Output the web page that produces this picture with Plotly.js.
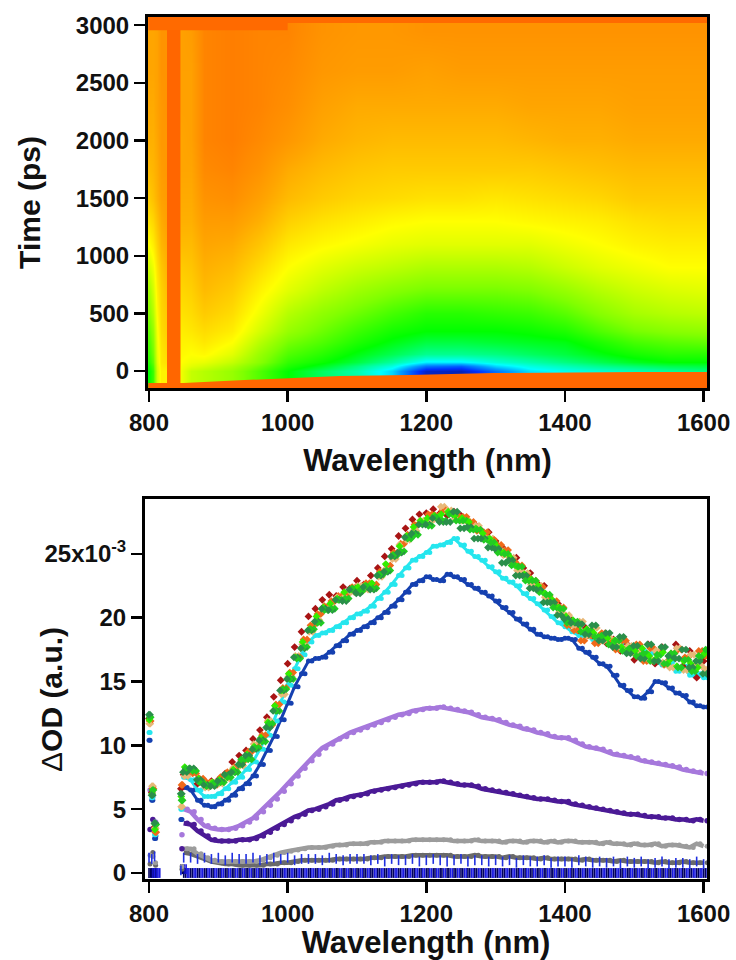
<!DOCTYPE html>
<html><head><meta charset="utf-8">
<script src="https://cdn.plot.ly/plotly-3.0.1.min.js"></script>
<style>html,body{margin:0;padding:0;background:#fff}#c{width:736px;height:960px}</style></head>
<body><div id="c"></div>
<script>
// ---------- top map ----------
const mapWave=[800,806,812,818,824,826,844,846,860,880,920,960,1000,1050,1100,1150,1200,1250,1300,1350,1400,1450,1500,1550,1604];
const mapTime=[-150,0,40,80,150,250,350,500,700,900,1100,1300,1500,1750,2000,2300,2600,2950];
const mapZ=[
[42,48,66,74,74,100,100,70,64,62,58,50,42,36,31,22,4,3,14,23,26,28,30,32,34],
[42,48,66,74,74,100,100,70,64,62,58,50,42,36,31,22,4,3,14,23,26,28,30,32,34],
[44,50,67,75,76,100,100,71,68,66,61,53,45,40,34,27,14,12,22,27,30,33,35,37,38],
[46,52,68,76,77,100,100,72,70,69,64,56,47,43,38,32,24,24,28,31,34,37,40,42,42],
[48,54,69,76,78,100,100,73,72,73,68,58,50,46,41,37,33,33,34,36,38,41,44,46,46],
[50,56,70,77,79,100,100,74,74,76,72,62,54,50,45,41,38,38,39,40,41,45,49,51,52],
[52,58,71,78,80,100,100,75,76,78,75,66,58,53,48,44,42,42,42,43,45,50,54,56,57],
[56,62,73,79,81,100,100,77,78,81,78,70,62,57,53,49,46,46,47,48,51,56,60,62,63],
[60,66,75,80,83,100,100,79,80,84,81,74,68,63,59,56,54,54,54,55,58,62,65,67,68],
[66,70,77,82,85,100,100,81,82,86,84,78,72,68,65,63,61,61,61,62,65,68,70,72,72],
[72,75,80,85,87,100,100,84,84,88,87,82,76,73,71,69,68,68,68,68,70,72,74,75,75],
[77,79,83,87,89,100,100,86,86,90,90,86,80,77,75,73,72,72,72,73,74,75,77,78,78],
[81,83,86,89,90,100,100,87,87,92,93,89,84,81,79,78,77,77,76,77,78,79,81,81,81],
[84,85,87,90,91,100,100,88,88,94,95,92,87,84,82,81,81,81,81,81,82,83,84,84,84],
[86,86,88,91,91,100,100,88,89,95,96,94,91,87,85,84,84,84,84,85,86,86,87,87,87],
[87,87,89,91,92,100,100,89,89,95,96,95,93,89,87,87,87,87,87,88,88,88,89,89,89],
[88,88,89,92,92,100,100,89,89,95,96,95,94,91,90,90,89,90,90,90,90,90,90,90,90],
[88,88,89,92,92,100,100,89,90,95,96,95,95,92,91,91,92,92,92,92,92,92,92,92,92]];
const mapStops=[0,8,18,25,33,42,55,65,72,80,88,94,100];
const mapColors=['#0a1a8c','#0030ff','#00a0ff','#00ffff','#00ff90','#00ff00','#80ff00','#ccff00','#ffff00','#ffd000','#ffa500','#ff8a00','#ff6600'];
const edgeX=[799,850,938,1000,1075,1175,1297,1505,1605,1605,799];
const edgeY=[-104,-104,-78,-60,-43,-35,-17,-9,-9,-160,-160];
const capX=[799,799,1000,1000,1605,1605];
const capY=[3080,2955,2955,3020,3020,3080];

// ---------- bottom spectra ----------
const waves=[800,804,808,846,850,860,870,880,890,900,910,920,930,940,950,960,970,980,990,1000,1010,1020,1030,1040,1050,1060,1070,1080,1090,1100,1110,1120,1130,1140,1150,1160,1170,1180,1190,1200,1210,1220,1230,1240,1250,1260,1270,1280,1290,1300,1310,1320,1330,1340,1350,1360,1370,1380,1390,1400,1410,1420,1430,1440,1450,1460,1470,1480,1490,1500,1510,1520,1530,1540,1550,1560,1570,1580,1590,1600];
const darkRed=[12.1,6.3,3.6,6.6,7.7,7.9,7.0,6.9,7.2,7.3,7.8,8.7,9.2,9.6,10.5,11.2,12.2,13.8,15.1,16.4,17.7,18.9,20.1,20.7,21.4,21.8,21.7,22.4,22.3,22.9,22.6,23.3,23.9,24.8,25.4,26.4,27.0,27.7,28.1,28.2,28.5,28.2,28.0,28.3,28.0,27.5,27.3,26.8,26.7,26.0,25.5,24.8,24.7,23.9,23.5,22.7,22.5,21.4,21.1,19.9,19.8,19.0,19.2,18.6,18.6,18.0,18.3,17.4,17.9,16.7,17.6,17.9,16.4,17.7,16.7,17.9,16.2,17.4,15.3,16.6];
const orange=[11.9,6.6,3.2,6.9,8.0,7.8,7.4,7.1,6.9,7.5,7.9,8.3,8.8,9.5,9.9,10.8,11.6,13.2,14.5,15.7,16.9,18.3,19.4,20.3,20.9,21.3,21.7,21.9,22.4,22.2,22.7,22.6,23.6,24.1,25.1,25.8,26.5,27.3,27.4,28.1,28.0,28.4,28.2,27.9,27.9,27.5,26.8,26.7,26.1,25.7,25.3,24.4,24.1,23.2,22.9,22.4,21.7,21.3,20.8,19.4,19.0,18.2,18.6,18.0,18.8,18.1,17.5,18.2,17.3,17.9,16.6,17.6,17.2,16.3,17.2,17.5,16.9,16.2,17.4,17.0];
const tan=[11.7,6.8,3.5,5.2,7.6,8.1,7.2,6.7,7.1,7.0,7.4,8.2,8.4,9.0,10.1,10.4,11.9,12.8,14.0,15.4,17.0,17.9,18.9,19.8,20.7,20.8,21.6,21.6,22.0,22.5,22.2,22.4,23.2,23.8,24.6,25.7,26.1,26.8,27.6,27.5,27.7,28.7,28.4,27.8,27.6,27.1,27.2,26.3,26.2,25.4,24.9,24.7,23.7,23.5,22.6,22.5,21.6,21.1,20.4,20.2,19.4,19.7,18.6,19.2,18.2,18.4,18.0,17.6,17.8,17.3,17.0,16.7,17.4,16.5,16.1,17.6,15.9,17.1,16.3,16.0];
const darkGreen=[12.4,6.1,3.9,6.2,7.9,8.2,7.3,6.9,6.8,7.2,7.7,7.9,8.5,9.2,9.7,10.4,11.4,12.7,14.3,15.2,16.9,17.6,19.0,19.7,20.7,20.6,21.4,21.3,22.2,21.9,22.4,22.2,23.3,23.6,24.8,25.1,26.3,26.6,27.3,27.3,27.8,27.5,27.5,28.3,27.0,27.1,26.2,26.2,25.5,25.4,24.3,24.5,23.3,23.3,22.3,22.2,21.2,21.2,20.2,19.9,19.6,19.5,18.7,19.4,18.2,18.8,17.7,18.5,17.2,17.8,16.8,17.9,16.6,17.7,17.0,16.8,17.5,16.1,16.6,15.6];
const midGreen=[12.2,6.5,3.8,5.7,8.2,8.0,7.1,6.8,7.0,7.1,7.5,7.9,8.9,8.9,9.8,10.3,11.7,12.7,14.4,15.2,16.8,17.7,19.1,19.6,20.6,20.7,21.4,21.5,22.3,22.1,22.5,22.3,23.4,23.7,24.9,25.2,26.2,26.5,27.4,27.2,27.9,27.6,28.1,27.6,27.6,26.9,26.9,26.1,25.9,25.1,25.0,24.1,24.0,22.9,22.9,22.0,21.8,20.8,20.7,19.6,19.7,18.9,19.0,18.5,18.6,17.9,18.2,17.4,17.6,17.0,17.2,16.6,17.1,16.4,17.2,16.1,16.7,15.8,17.0,17.5];
const brightGreen=[12.0,6.2,3.4,6.0,8.3,8.1,7.4,6.9,7.1,7.3,7.6,8.1,8.5,9.3,9.9,10.6,11.8,13.1,14.3,15.6,16.9,18.1,19.1,20.1,20.8,21.1,21.5,22.0,22.2,22.4,22.5,22.7,23.4,24.2,24.9,25.6,26.4,27.1,27.6,27.8,28.0,28.1,28.3,28.0,27.8,27.5,27.0,26.6,26.2,25.6,25.1,24.7,24.0,23.4,23.0,22.5,21.9,21.4,20.8,20.1,19.8,19.4,19.1,18.8,18.5,18.4,18.2,17.7,17.5,17.4,17.6,17.0,16.8,17.3,16.7,16.2,16.6,16.4,16.1,17.2];
const cyan=[11.0,5.9,3.0,5.0,7.5,7.3,6.5,6.0,6.0,6.2,6.6,7.1,7.5,8.1,8.7,9.7,10.8,11.9,13.4,14.7,16.0,17.1,18.1,18.6,18.8,19.0,19.3,19.6,20.0,20.3,20.5,20.9,21.5,22.0,22.6,23.3,23.9,24.5,24.8,25.1,25.6,25.7,25.9,26.2,25.7,25.2,24.8,24.5,24.0,23.6,23.1,22.8,22.5,21.9,21.5,21.1,20.6,20.1,19.6,19.3,18.9,18.6,18.6,18.3,18.3,18.1,17.9,18.0,17.6,17.7,17.4,17.2,16.6,16.3,16.5,15.8,16.2,15.5,15.6,15.3];
const blue=[10.4,5.7,2.7,4.2,6.7,6.5,5.7,5.3,5.2,5.4,5.7,6.1,6.6,7.0,7.6,8.5,9.6,10.7,12.0,13.3,14.6,15.6,16.6,16.8,16.9,17.3,17.8,18.2,18.7,19.0,19.3,19.6,20.0,20.4,20.9,21.4,22.0,22.6,22.9,23.2,23.0,22.9,23.4,23.2,23.0,22.6,22.3,22.0,21.7,21.3,20.8,20.4,19.9,19.5,19.1,18.7,18.5,18.4,18.3,18.4,18.3,17.6,17.3,16.9,16.4,16.2,15.5,14.7,14.3,13.8,13.7,14.2,15.0,14.9,14.5,14.1,13.9,13.4,13.1,13.0];
const lilac=[6.5,6.0,4.0,3.0,5.0,4.8,4.2,3.7,3.5,3.4,3.4,3.5,3.7,4.0,4.3,4.8,5.3,5.8,6.4,7.0,7.6,8.2,8.8,9.3,9.8,10.1,10.5,10.7,11.0,11.2,11.4,11.6,11.8,12.0,12.2,12.4,12.5,12.7,12.8,12.9,12.9,13.0,12.9,12.8,12.7,12.6,12.4,12.2,12.1,12.0,11.8,11.6,11.5,11.3,11.2,11.0,10.9,10.7,10.6,10.6,10.4,10.1,9.9,9.8,9.7,9.5,9.3,9.2,9.1,9.0,8.8,8.7,8.6,8.5,8.4,8.3,8.1,8.0,7.9,7.8];
const violet=[3.4,4.2,2.9,1.9,3.9,3.8,3.3,2.9,2.6,2.5,2.5,2.5,2.6,2.6,2.7,2.9,3.2,3.5,3.8,4.1,4.4,4.6,4.9,5.0,5.2,5.4,5.7,5.8,6.0,6.1,6.2,6.4,6.5,6.6,6.7,6.8,6.9,7.0,7.1,7.1,7.1,7.2,7.1,7.0,6.9,6.9,6.8,6.6,6.5,6.4,6.3,6.2,6.1,6.0,5.9,5.8,5.8,5.7,5.6,5.6,5.4,5.3,5.2,5.1,5.0,4.9,4.8,4.7,4.6,4.6,4.5,4.4,4.4,4.3,4.3,4.2,4.2,4.1,4.2,4.1];
const grey=[1.4,1.3,0.8,0.5,1.9,1.9,1.5,1.2,1.0,0.9,0.9,0.9,0.9,0.9,0.9,1.0,1.2,1.4,1.6,1.7,1.8,1.9,2.0,2.0,2.0,2.1,2.2,2.2,2.3,2.3,2.3,2.4,2.4,2.5,2.5,2.5,2.5,2.6,2.6,2.6,2.6,2.6,2.6,2.5,2.5,2.5,2.6,2.5,2.5,2.5,2.4,2.5,2.5,2.4,2.5,2.5,2.4,2.5,2.4,2.5,2.5,2.4,2.4,2.4,2.3,2.4,2.3,2.3,2.2,2.3,2.2,2.2,2.3,2.1,2.2,2.2,2.1,2.0,2.3,2.1];
const darkGrey=[0.7,1.6,0.6,0.3,1.6,1.5,1.3,1.1,0.9,0.8,0.7,0.7,0.6,0.6,0.6,0.6,0.7,0.7,0.8,0.8,0.9,1.0,1.0,1.0,1.0,1.0,1.1,1.1,1.1,1.1,1.1,1.2,1.2,1.3,1.3,1.3,1.3,1.4,1.4,1.4,1.4,1.4,1.4,1.3,1.3,1.3,1.4,1.3,1.3,1.3,1.2,1.3,1.2,1.2,1.2,1.1,1.2,1.1,1.1,1.1,1.1,1.0,1.1,1.0,1.0,1.0,0.9,1.0,0.9,0.9,0.9,0.9,0.8,0.9,0.8,0.8,0.9,0.8,0.8,0.8];
const royal=[1.2,1.1,1.3,0.2,1.2,1.2,1.1,1.2,1.1,1.2,1.0,1.2,1.1,1.1,1.2,1.0,1.1,1.2,1.1,1.2,1.0,1.1,1.1,1.1,1.0,1.2,1.1,1.0,1.1,1.1,1.1,1.0,1.1,0.9,1.1,1.0,1.0,1.1,0.9,1.0,1.1,1.0,0.9,1.0,1.1,0.9,1.0,1.0,0.9,1.0,0.9,1.0,0.8,1.0,0.9,0.9,1.0,0.8,0.9,0.9,0.8,1.0,0.9,0.8,0.9,0.8,0.9,0.7,0.9,0.8,0.9,0.7,0.8,0.9,0.7,0.8,0.8,0.7,0.9,0.7];
const navy=[0,0,0,0.3,0,0,0,0,0,0,0,0,0,0,0,0,0,0,0,0,0,0,0,0,0,0,0,0,0,0,0,0,0,0,0,0,0,0,0,0,0,0,0,0,0,0,0,0,0,0,0,0,0,0,0,0,0,0,0,0,0,0,0,0,0,0,0,0,0,0,0,0,0,0,0,0,0,0,0,0];
const xTicks=[800,1000,1200,1400,1600];
const yTop=[0,500,1000,1500,2000,2500,3000];
const yBot=[0,5,10,15,20,25];
const yBotText=['0','5','10','15','20','25x10<sup>-3</sup>'];

const F='"Liberation Sans",Arial,sans-serif';
const tf={family:F,size:24,color:'#111',weight:700};
function ax(extra){return Object.assign({showgrid:false,zeroline:false,showline:true,mirror:true,linecolor:'#000',linewidth:3,ticks:'outside',ticklen:11,tickwidth:2.5,tickcolor:'#000',tickfont:tf},extra);}
const titleFont={family:F,size:30,color:'#111',weight:700};

function dots(y,color,shift,size,sym){return {x:waves.map(w=>w>846?w+shift:w+shift*0.3),y:y,xaxis:'x2',yaxis:'y2',type:'scatter',mode:'markers',marker:{color:color,size:size,symbol:sym||'circle'},hoverinfo:'skip'};}
function band(y,color,w){
  const xs=[],ys=[];
  waves.forEach((v,i)=>{if(v>=850){xs.push(v);ys.push(y[i]);}});
  return {x:xs,y:ys,xaxis:'x2',yaxis:'y2',type:'scatter',mode:'lines',line:{color:color,width:w},hoverinfo:'skip'};
}
function bars(y,color,shift){return {x:waves.map(w=>w+shift),y:y,xaxis:'x2',yaxis:'y2',type:'scatter',mode:'markers',marker:{symbol:'line-ns',size:7,line:{color:color,width:1.6}},hoverinfo:'skip'};}

const traces=[
 {type:'heatmap',x:mapWave,y:mapTime,z:mapZ,zmin:0,zmax:100,zsmooth:'best',showscale:false,hoverinfo:'skip',
  colorscale:mapStops.map((s,i)=>[s/100,mapColors[i]])},
 {type:'scatter',x:edgeX,y:edgeY,mode:'lines',line:{color:'#ff6600',width:0},fill:'toself',fillcolor:'#ff6600',hoverinfo:'skip'},
 {type:'scatter',x:capX,y:capY,mode:'lines',line:{color:'#ff6a00',width:0},fill:'toself',fillcolor:'#ff6a00',hoverinfo:'skip'},
 bars(navy,'#000060',0),bars(navy,'#1a1ae0',5),bars(navy,'#000060',2.5),bars(navy,'#1a1ae0',7.5),
 band(darkGrey,'#6a6a6a',4.5),dots(darkGrey,'#6a6a6a',5,5),
 band(grey,'#9c9c9c',4.5),dots(grey,'#9c9c9c',5,5),
 bars(royal,'#2030e0',0),
 band(violet,'#4b1a96',4.5),dots(violet,'#4b1a96',5,5.5),
 band(lilac,'#a678dc',4.5),dots(lilac,'#a678dc',5,5.5),
 band(blue,'#1540b0',3),dots(blue,'#1540b0',5,5),dots(blue,'#1540b0',0,5),
 band(cyan,'#25e6ee',3),dots(cyan,'#25e6ee',5,5),dots(cyan,'#25e6ee',0,5),
 dots(darkRed,'#a81414',0,6,'diamond'),dots(orange,'#f06a1a',3,6,'diamond'),dots(tan,'#e8b878',6,6,'diamond'),
 dots(orange,'#f06a1a',8,6,'diamond'),dots(tan,'#e8b878',1,6,'diamond'),
 dots(midGreen,'#22cc22',8,6,'diamond'),dots(brightGreen,'#33ee00',1.5,6,'diamond'),dots(darkGreen,'#2a8f4a',4.5,6,'diamond'),
 dots(midGreen,'#22cc22',3,6,'diamond'),dots(darkGreen,'#2a8f4a',-1,6,'diamond')
];
const layout={width:736,height:960,margin:{l:0,r:0,t:0,b:0},paper_bgcolor:'#fff',plot_bgcolor:'#fff',showlegend:false,
 xaxis:ax({domain:[148/736,707/736],range:[798.6,1604.9],tickvals:xTicks,title:{text:'Wavelength (nm)',font:Object.assign({},titleFont,{size:31}),standoff:15},anchor:'y'}),
 yaxis:ax({domain:[1-388/960,1-17/960],range:[-147,3071],tickvals:yTop,title:{text:'Time (ps)',font:titleFont,standoff:27},anchor:'x'}),
 xaxis2:ax({domain:[145/736,707/736],range:[794.2,1604.9],tickvals:xTicks,title:{text:'Wavelength (nm)',font:Object.assign({},titleFont,{size:31}),standoff:2},anchor:'y2'}),
 yaxis2:ax({domain:[1-879/960,1-499/960],range:[-0.47,29.3],tickvals:yBot,ticktext:yBotText,tickmode:'array',anchor:'x2'}),
 annotations:[{xref:'paper',yref:'paper',x:51/736,y:1-700/960,xanchor:'center',yanchor:'middle',textangle:-90,showarrow:false,
   text:'<span style="font-weight:normal">Δ</span>OD (a.u.)',font:titleFont}]
};
Plotly.newPlot('c',traces,layout,{displayModeBar:false,staticPlot:true});
</script></body></html>
